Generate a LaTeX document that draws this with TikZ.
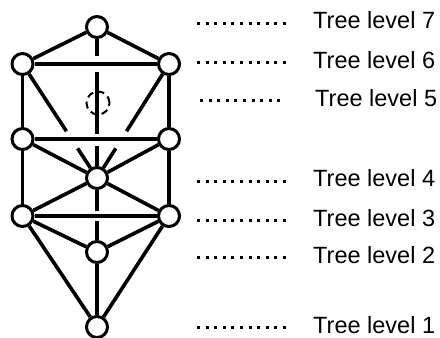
\documentclass[tikz,border=0pt]{standalone}
\usepackage{fontspec}
\setmainfont{Liberation Sans}
\usetikzlibrary{calc}
\begin{document}
\begin{tikzpicture}[x=1pt,y=-1pt,
  sph/.style={circle,draw,line width=3pt,fill=white,minimum size=21pt,inner sep=0pt},
  ghost/.style={circle,draw,line width=2pt,dash pattern=on 7pt off 4.5pt,minimum size=23pt,inner sep=0pt},
  link/.style={line width=3.6pt},
  dots/.style={line width=3pt,dash pattern=on 3pt off 5.6pt},
  lbl/.style={anchor=base west,font=\fontsize{23.5}{27}\selectfont,inner sep=0pt}]
\useasboundingbox (0,0) rectangle (440,338);
% spheres
\node[sph] (T)  at (97,27) {};
\node[sph] (UL) at (22.5,64) {};
\node[sph] (UR) at (169,64) {};
\node[sph] (ML) at (22.5,139) {};
\node[sph] (MR) at (169,139) {};
\node[sph] (C)  at (97,178) {};
\node[sph] (LL) at (22.5,216) {};
\node[sph] (LR) at (169,216) {};
\node[sph] (LM) at (97,252) {};
\node[sph] (B)  at (97,327) {};
% gap coordinates
\coordinate (v1a) at ($(T |- UL)+(0,-8)$);
\coordinate (v1b) at ($(T |- UL)+(0,8)$);
\coordinate (v2a) at ($(T |- ML)+(0,-5)$);
\coordinate (v2b) at ($(T |- ML)+(0,7)$);
\coordinate (v3a) at ($(C |- LL)+(0,-5)$);
\coordinate (v3b) at ($(C |- LL)+(0,5)$);
\coordinate (gla) at ($(UL)!0.59!(C)$);
\coordinate (glb) at ($(UL)!0.74!(C)$);
\coordinate (gra) at ($(UR)!0.59!(C)$);
\coordinate (grb) at ($(UR)!0.74!(C)$);
% paths
\draw[link] (T) -- (UL);
\draw[link] (T) -- (UR);
\draw[link] (UL) -- (UR);
\draw[link] (T) -- (v1a);
\draw[link] (v1b) -- (v2a);
\draw[link] (v2b) -- (C);
\draw[link] (UL) -- (ML);
\draw[link] (UR) -- (MR);
\draw[link] (UL) -- (gla);
\draw[link] (glb) -- (C);
\draw[link] (UR) -- (gra);
\draw[link] (grb) -- (C);
\draw[link] (ML) -- (MR);
\draw[link] (ML) -- (C);
\draw[link] (MR) -- (C);
\draw[link] (ML) -- (LL);
\draw[link] (MR) -- (LR);
\draw[link] (C) -- (LL);
\draw[link] (C) -- (LR);
\draw[link] (LL) -- (LR);
\draw[link] (C) -- (v3a);
\draw[link] (v3b) -- (LM);
\draw[link] (LL) -- (LM);
\draw[link] (LR) -- (LM);
\draw[link] (LL) -- (B);
\draw[link] (LR) -- (B);
\draw[link] (LM) -- (B);
% hidden sphere
\node[ghost] (D) at (98,103) {};
% labels
\node[lbl] (L7) at (313,28) {Tree level 7};
\node[lbl] (L6) at (313,68) {Tree level 6};
\node[lbl] (L5) at (315,106.5) {Tree level 5};
\node[lbl] (L4) at (313,186) {Tree level 4};
\node[lbl] (L3) at (313,226) {Tree level 3};
\node[lbl] (L2) at (313,263) {Tree level 2};
\node[lbl] (L1) at (313,333) {Tree level 1};
% dotted leaders
\coordinate (d7a) at (197,23); \coordinate (d7b) at (287,23);
\coordinate (d6a) at (197,62); \coordinate (d6b) at (287,62);
\coordinate (d5a) at (200,100); \coordinate (d5b) at (282,100);
\coordinate (d4a) at (197,181); \coordinate (d4b) at (287,181);
\coordinate (d3a) at (197,220); \coordinate (d3b) at (287,220);
\coordinate (d2a) at (197,257); \coordinate (d2b) at (287,257);
\coordinate (d1a) at (197,327); \coordinate (d1b) at (287,327);
\draw[dots] (d7a) -- (d7b);
\draw[dots] (d6a) -- (d6b);
\draw[dots] (d5a) -- (d5b);
\draw[dots] (d4a) -- (d4b);
\draw[dots] (d3a) -- (d3b);
\draw[dots] (d2a) -- (d2b);
\draw[dots] (d1a) -- (d1b);
\end{tikzpicture}
\end{document}
